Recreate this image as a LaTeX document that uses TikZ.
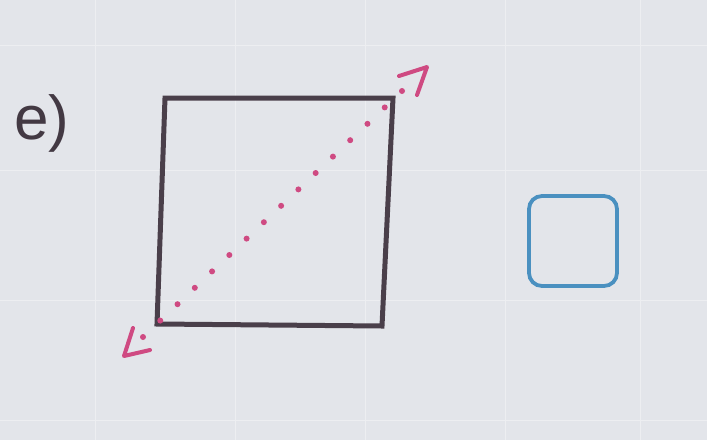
\documentclass[tikz,border=0pt]{standalone}
\usepackage{fontspec}
\setmainfont{Liberation Sans}
\usetikzlibrary{calc}
\definecolor{paper}{HTML}{E3E5EA}
\definecolor{ink}{HTML}{4A3F4A}
\definecolor{pinkmark}{HTML}{CF4A82}
\definecolor{bluebox}{HTML}{4A90C0}
\tikzset{
  frame/.style={draw=ink, line width=5pt, line join=miter},
  chevron/.style={draw=pinkmark, line width=4pt, line cap=round, line join=round},
  dotmark/.style={fill=pinkmark, draw=none},
  answerbox/.style={draw=bluebox, line width=3.8pt, rounded corners=13pt},
  gridline/.style={draw=white!35!paper, line width=1pt},
}
\begin{document}
\begin{tikzpicture}[x=1pt,y=-1pt]
  \fill[paper] (0,0) rectangle (707,440);
  \useasboundingbox (0,0) rectangle (707,440);
  % faint paper grid
  \foreach \gx in {95,235,365,505,640} {\draw[gridline] (\gx,0) -- (\gx,440);}
  \foreach \gy in {45,170,300,420} {\draw[gridline] (0,\gy) -- (707,\gy);}
  % label
  \node[anchor=base west, font=\fontsize{62}{62}\selectfont, text=ink!90!black, inner sep=0pt] (lbl) at (14,139) {e)};
  % square corners
  \coordinate (tl) at (165,98);
  \coordinate (tr) at (393,98);
  \coordinate (br) at (382,326);
  \coordinate (bl) at (157,324);
  \draw[frame] (tl) -- (tr) -- (br) -- (bl) -- cycle;
  % dotted diagonal
  \coordinate (dstart) at (143,337);
  \coordinate (dend) at (402,91);
  \foreach \i in {0,...,15} {
    \fill[dotmark] ($(dstart)!\i/15!(dend)$) circle (3pt);
  }
  % chevrons
  \coordinate (c1a) at (399,76);
  \coordinate (c1tip) at (427,67);
  \coordinate (c1b) at (417,95);
  \draw[chevron] (c1a) -- (c1tip) -- (c1b);
  \coordinate (c2a) at (133,328);
  \coordinate (c2tip) at (124,356);
  \coordinate (c2b) at (150,350);
  \draw[chevron] (c2a) -- (c2tip) -- (c2b);
  % answer box
  \node[answerbox, minimum width=88pt, minimum height=90pt, inner sep=0pt] (ans) at (573,241) {};
\end{tikzpicture}
\end{document}
